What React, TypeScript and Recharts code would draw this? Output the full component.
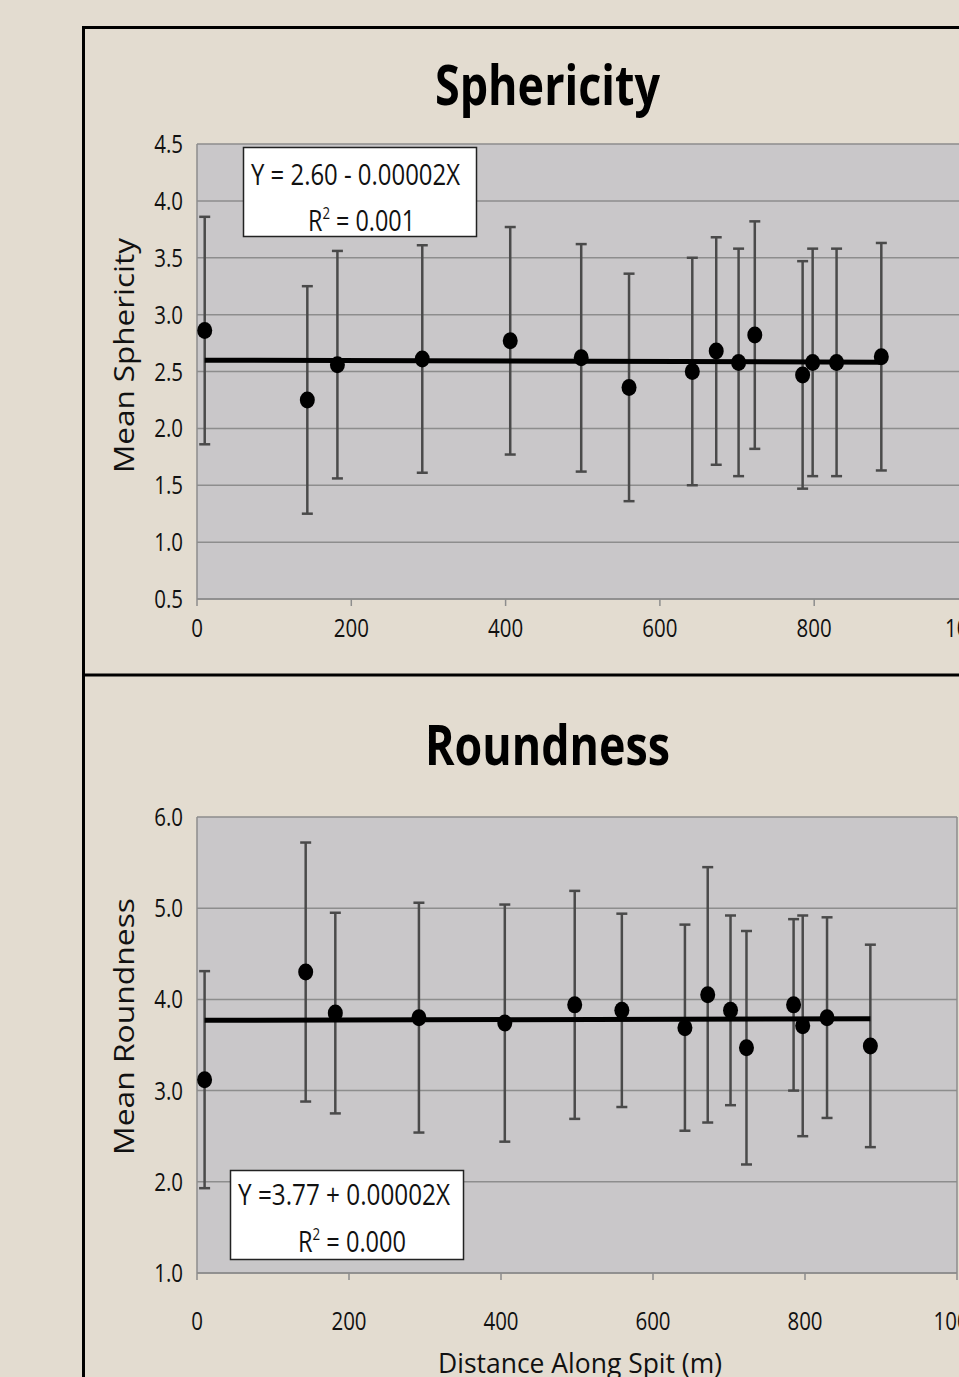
import React from 'react';
import { ComposedChart, Scatter, XAxis, YAxis, CartesianGrid, ErrorBar, ReferenceLine } from 'recharts';

// ---------- data ----------
const sphericityDistance = [10, 143, 182, 292, 406, 498, 560, 642, 673, 702, 723, 785, 798, 829, 887];
const sphericityMean = [2.86, 2.25, 2.56, 2.61, 2.77, 2.62, 2.36, 2.5, 2.68, 2.58, 2.82, 2.47, 2.58, 2.58, 2.63];
const sphericityErr = [1.0, 1.0, 1.0, 1.0, 1.0, 1.0, 1.0, 1.0, 1.0, 1.0, 1.0, 1.0, 1.0, 1.0, 1.0];

const roundnessDistance = [10, 143, 182, 292, 405, 497, 559, 642, 672, 702, 723, 785, 797, 829, 886];
const roundnessMean = [3.12, 4.3, 3.85, 3.8, 3.74, 3.94, 3.88, 3.69, 4.05, 3.88, 3.47, 3.94, 3.71, 3.8, 3.49];
const roundnessErr = [1.19, 1.42, 1.1, 1.26, 1.3, 1.25, 1.06, 1.13, 1.4, 1.04, 1.28, 0.94, 1.21, 1.1, 1.11];

const xTicks = [0, 200, 400, 600, 800, 1000];
const sphericityTicks = [0.5, 1.0, 1.5, 2.0, 2.5, 3.0, 3.5, 4.0, 4.5];
const roundnessTicks = [1, 2, 3, 4, 5, 6];

// regression fits (from the equations printed on the chart)
const sphericityFit = { intercept: 2.6, slope: -0.00002 };
const roundnessFit = { intercept: 3.77, slope: 0.00002 };

const sphericityRows = sphericityDistance.map((x, i) => ({ x, y: sphericityMean[i], err: sphericityErr[i] }));
const roundnessRows = roundnessDistance.map((x, i) => ({ x, y: roundnessMean[i], err: roundnessErr[i] }));

const fitLine = (xs: number[], fit: { intercept: number; slope: number }) => {
  const x0 = xs[0];
  const x1 = xs[xs.length - 1];
  return [
    { x: x0, y: fit.intercept + fit.slope * x0 },
    { x: x1, y: fit.intercept + fit.slope * x1 },
  ];
};
const sphericityTrend = fitLine(sphericityDistance, sphericityFit);
const roundnessTrend = fitLine(roundnessDistance, roundnessFit);

// ---------- styling ----------
const FONT = "'Open Sans', 'Liberation Sans', sans-serif";
const BG = '#e3dcd0';
const PLOT = '#c9c7c9';
const GRID = '#8d8d8d';
const ERR = '#4a4a4a';

const XTick = (props: any) => {
  const { x, y, payload, dy } = props;
  return (
    <text
      transform={`translate(${x},${y}) scale(0.82,1)`}
      x={0}
      y={dy}
      textAnchor="middle"
      fontFamily={FONT}
      fontSize={25}
      fill="#111"
    >
      {payload.value}
    </text>
  );
};

const YTick = (props: any) => {
  const { x, y, payload } = props;
  return (
    <text
      transform={`translate(${x},${y}) scale(0.82,1)`}
      x={0}
      y={9}
      textAnchor="end"
      fontFamily={FONT}
      fontSize={25}
      fill="#111"
    >
      {Number(payload.value).toFixed(1)}
    </text>
  );
};

const Dot = (props: any) => {
  const { cx, cy } = props;
  if (cx == null || cy == null) return <g />;
  return <ellipse cx={cx} cy={cy} rx={7.5} ry={8.5} fill="#000" />;
};

const NoDot = () => <g />;

type PanelProps = {
  rows: { x: number; y: number; err: number }[];
  trend: { x: number; y: number }[];
  domain: [number, number];
  ticks: number[];
  height: number;
  margin: { top: number; right: number; bottom: number; left: number };
  xAxisHeight: number;
  tickDy: number;
};

const Panel = ({ rows, trend, domain, ticks, height, margin, xAxisHeight, tickDy }: PanelProps) => (
  <ComposedChart width={1000} height={height} margin={margin}>
    <CartesianGrid vertical={false} stroke={GRID} strokeWidth={1.5} fill={PLOT} fillOpacity={1} />
    <XAxis
      type="number"
      dataKey="x"
      domain={[0, 1000]}
      ticks={xTicks}
      allowDataOverflow
      height={xAxisHeight}
      axisLine={{ stroke: GRID, strokeWidth: 1.5 }}
      tickLine={{ stroke: GRID, strokeWidth: 1.5 }}
      tickSize={7}
      tickMargin={0}
      interval={0}
      tick={(p: any) => <XTick {...p} dy={tickDy} />}
    />
    <YAxis
      type="number"
      dataKey="y"
      domain={domain}
      ticks={ticks}
      allowDataOverflow
      width={197}
      axisLine={{ stroke: GRID, strokeWidth: 1.5 }}
      tickLine={false}
      tickSize={0}
      tickMargin={14}
      interval={0}
      tick={(p: any) => <YTick {...p} />}
    />
    <ReferenceLine x={1000} stroke={GRID} strokeWidth={1.5} ifOverflow="visible" />
    <Scatter data={rows} shape={NoDot} isAnimationActive={false}>
      <ErrorBar dataKey="err" direction="y" width={5.5} stroke={ERR} strokeWidth={2.5} isAnimationActive={false} />
    </Scatter>
    <Scatter
      data={trend}
      shape={NoDot}
      line={{ stroke: '#000', strokeWidth: 5 }}
      isAnimationActive={false}
    />
    <Scatter data={rows} shape={Dot} isAnimationActive={false} />
  </ComposedChart>
);

const Overlay = () => (
  <svg width={959} height={1377} style={{ position: 'absolute', left: 0, top: 0, pointerEvents: 'none' }}>
    {/* panel frame */}
    <line x1={83.5} y1={26} x2={83.5} y2={1377} stroke="#000" strokeWidth={3} />
    <line x1={82} y1={27.5} x2={959} y2={27.5} stroke="#000" strokeWidth={3} />
    <line x1={82} y1={675} x2={959} y2={675} stroke="#000" strokeWidth={3} />

    {/* titles */}
    <text x={435} y={105} fontFamily={FONT} fontWeight={700} fontSize={56} fill="#000" textLength={225} lengthAdjust="spacingAndGlyphs">
      Sphericity
    </text>
    <text x={425} y={765} fontFamily={FONT} fontWeight={700} fontSize={56} fill="#000" textLength={245} lengthAdjust="spacingAndGlyphs">
      Roundness
    </text>

    {/* y axis labels */}
    <text
      transform="translate(134,355.5) rotate(-90)"
      textAnchor="middle"
      fontFamily={FONT}
      fontSize={28}
      fill="#111"
      textLength={235}
      lengthAdjust="spacingAndGlyphs"
    >
      Mean Sphericity
    </text>
    <text
      transform="translate(134,1026.5) rotate(-90)"
      textAnchor="middle"
      fontFamily={FONT}
      fontSize={28}
      fill="#111"
      textLength={257}
      lengthAdjust="spacingAndGlyphs"
    >
      Mean Roundness
    </text>

    {/* x axis label */}
    <text x={438} y={1373} fontFamily={FONT} fontSize={28} fill="#111" textLength={284} lengthAdjust="spacingAndGlyphs">
      Distance Along Spit (m)
    </text>

    {/* equation boxes */}
    <rect x={243.5} y={147.5} width={233} height={89} fill="#fff" stroke="#222" strokeWidth={1.5} />
    <text x={251} y={185} fontFamily={FONT} fontSize={30} fill="#111" textLength={209} lengthAdjust="spacingAndGlyphs">
      Y = 2.60 - 0.00002X
    </text>
    <text x={308} y={231} fontFamily={FONT} fontSize={30} fill="#111" textLength={107} lengthAdjust="spacingAndGlyphs">
      R<tspan fontSize={17} dy={-12}>2</tspan>
      <tspan dy={12}> = 0.001</tspan>
    </text>

    <rect x={230.5} y={1170.5} width={233} height={89} fill="#fff" stroke="#222" strokeWidth={1.5} />
    <text x={238} y={1205} fontFamily={FONT} fontSize={30} fill="#111" textLength={212} lengthAdjust="spacingAndGlyphs">
      Y =3.77 + 0.00002X
    </text>
    <text x={298} y={1252} fontFamily={FONT} fontSize={30} fill="#111" textLength={108} lengthAdjust="spacingAndGlyphs">
      R<tspan fontSize={17} dy={-12}>2</tspan>
      <tspan dy={12}> = 0.000</tspan>
    </text>
  </svg>
);

export default function App() {
  return (
    <div
      style={{
        position: 'fixed',
        left: 0,
        top: 0,
        width: 959,
        height: 1377,
        overflow: 'hidden',
        background: BG,
      }}
    >
      <div style={{ position: 'absolute', left: 0, top: 0 }}>
        <Panel
          rows={sphericityRows}
          trend={sphericityTrend}
          domain={[0.5, 4.5]}
          ticks={sphericityTicks}
          height={680}
          margin={{ top: 144, right: 31.5, bottom: 41, left: 0 }}
          xAxisHeight={40}
          tickDy={31}
        />
      </div>
      <div style={{ position: 'absolute', left: 0, top: 680 }}>
        <Panel
          rows={roundnessRows}
          trend={roundnessTrend}
          domain={[1, 6]}
          ticks={roundnessTicks}
          height={697}
          margin={{ top: 137, right: 43, bottom: 44, left: 0 }}
          xAxisHeight={60}
          tickDy={50}
        />
      </div>
      <Overlay />
    </div>
  );
}
